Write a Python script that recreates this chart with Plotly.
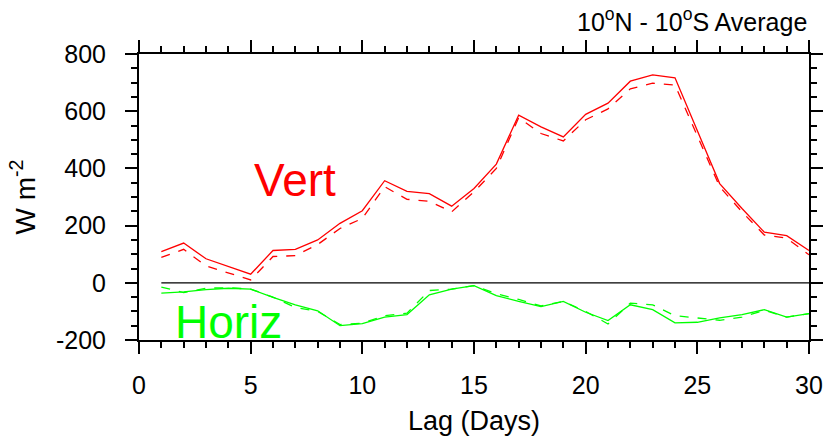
import plotly.graph_objects as go

lag = list(range(1, 31))
vert_solid = [109, 139, 84, 57, 30, 113, 117, 150, 208, 252, 357, 320, 312, 268, 330, 415, 586, 545, 510, 589,
              628, 705, 727, 717, 530, 347, 260, 177, 165, 113]
vert_dash = [89, 117, 59, 34, 10, 92, 95, 134, 190, 225, 336, 292, 285, 248, 318, 400, 577, 522, 496, 570,
             608, 678, 698, 691, 515, 336, 248, 167, 156, 98]
horiz_solid = [-36, -32, -24, -19, -22, -51, -77, -98, -150, -143, -120, -111, -42, -22, -10, -45, -65, -83, -65, -103,
               -132, -77, -94, -140, -138, -123, -111, -94, -120, -108]
horiz_dash = [-15, -34, -19, -17, -22, -50, -86, -100, -146, -141, -115, -106, -27, -22, -10, -38, -58, -81, -65, -100,
              -144, -71, -77, -115, -123, -131, -120, -96, -120, -108]
x_ticks = [0, 5, 10, 15, 20, 25, 30]
y_ticks = [-200, 0, 200, 400, 600, 800]

FONT = "Liberation Sans, Arial, Helvetica, sans-serif"
RED = "#ff0000"
GREEN = "#00ff00"

fig = go.Figure()
fig.add_trace(go.Scatter(x=[lag[0], lag[-1]], y=[0, 0], mode="lines",
                         line=dict(color="black", width=1.2)))
fig.add_trace(go.Scatter(x=lag, y=vert_solid, mode="lines", line=dict(color=RED, width=1.3)))
fig.add_trace(go.Scatter(x=lag, y=vert_dash, mode="lines", line=dict(color=RED, width=1.3, dash="dash")))
fig.add_trace(go.Scatter(x=lag, y=horiz_solid, mode="lines", line=dict(color=GREEN, width=1.3)))
fig.add_trace(go.Scatter(x=lag, y=horiz_dash, mode="lines", line=dict(color=GREEN, width=1.3, dash="dash")))

fig.add_annotation(x=7.0, y=360, xref="x", yref="y", text="Vert", showarrow=False,
                   font=dict(family=FONT, size=46, color=RED), xanchor="center", yanchor="middle")
fig.add_annotation(x=4.0, y=-136, xref="x", yref="y", text="Horiz", showarrow=False,
                   font=dict(family=FONT, size=46, color=GREEN), xanchor="center", yanchor="middle")
fig.add_annotation(x=1.0, y=1.12, xref="paper", yref="paper",
                   text="10<sup>o</sup>N - 10<sup>o</sup>S Average", showarrow=False,
                   font=dict(family=FONT, size=25, color="black"), xanchor="right", yanchor="middle")

axis_common = dict(showgrid=False, zeroline=False, showline=True, linecolor="black", linewidth=2,
                   mirror="allticks", ticks="outside", tickcolor="black", tickwidth=2, ticklen=12,
                   tickfont=dict(family=FONT, size=25, color="black"), automargin=False)

fig.update_xaxes(range=[0, 30], tickvals=x_ticks, ticktext=[str(v) for v in x_ticks],
                 ticklabelstandoff=10,
                 minor=dict(dtick=1, ticklen=6, tickwidth=1.5, tickcolor="black", ticks="outside"),
                 title=dict(text="Lag (Days)", font=dict(family=FONT, size=27, color="black"), standoff=13),
                 **axis_common)
fig.update_yaxes(range=[-200, 800], tickvals=y_ticks, ticktext=[str(v) for v in y_ticks],
                 ticklabelstandoff=14,
                 minor=dict(dtick=50, ticklen=6, tickwidth=1.5, tickcolor="black", ticks="outside"),
                 title=dict(text="W m<sup>-2</sup>", font=dict(family=FONT, size=28, color="black"), standoff=12),
                 **axis_common)

fig.update_layout(width=826, height=438, autosize=False, margin=dict(l=139, r=17, t=54, b=98, autoexpand=False),
                  plot_bgcolor="white", paper_bgcolor="white", showlegend=False)

fig.write_html("out.html")
